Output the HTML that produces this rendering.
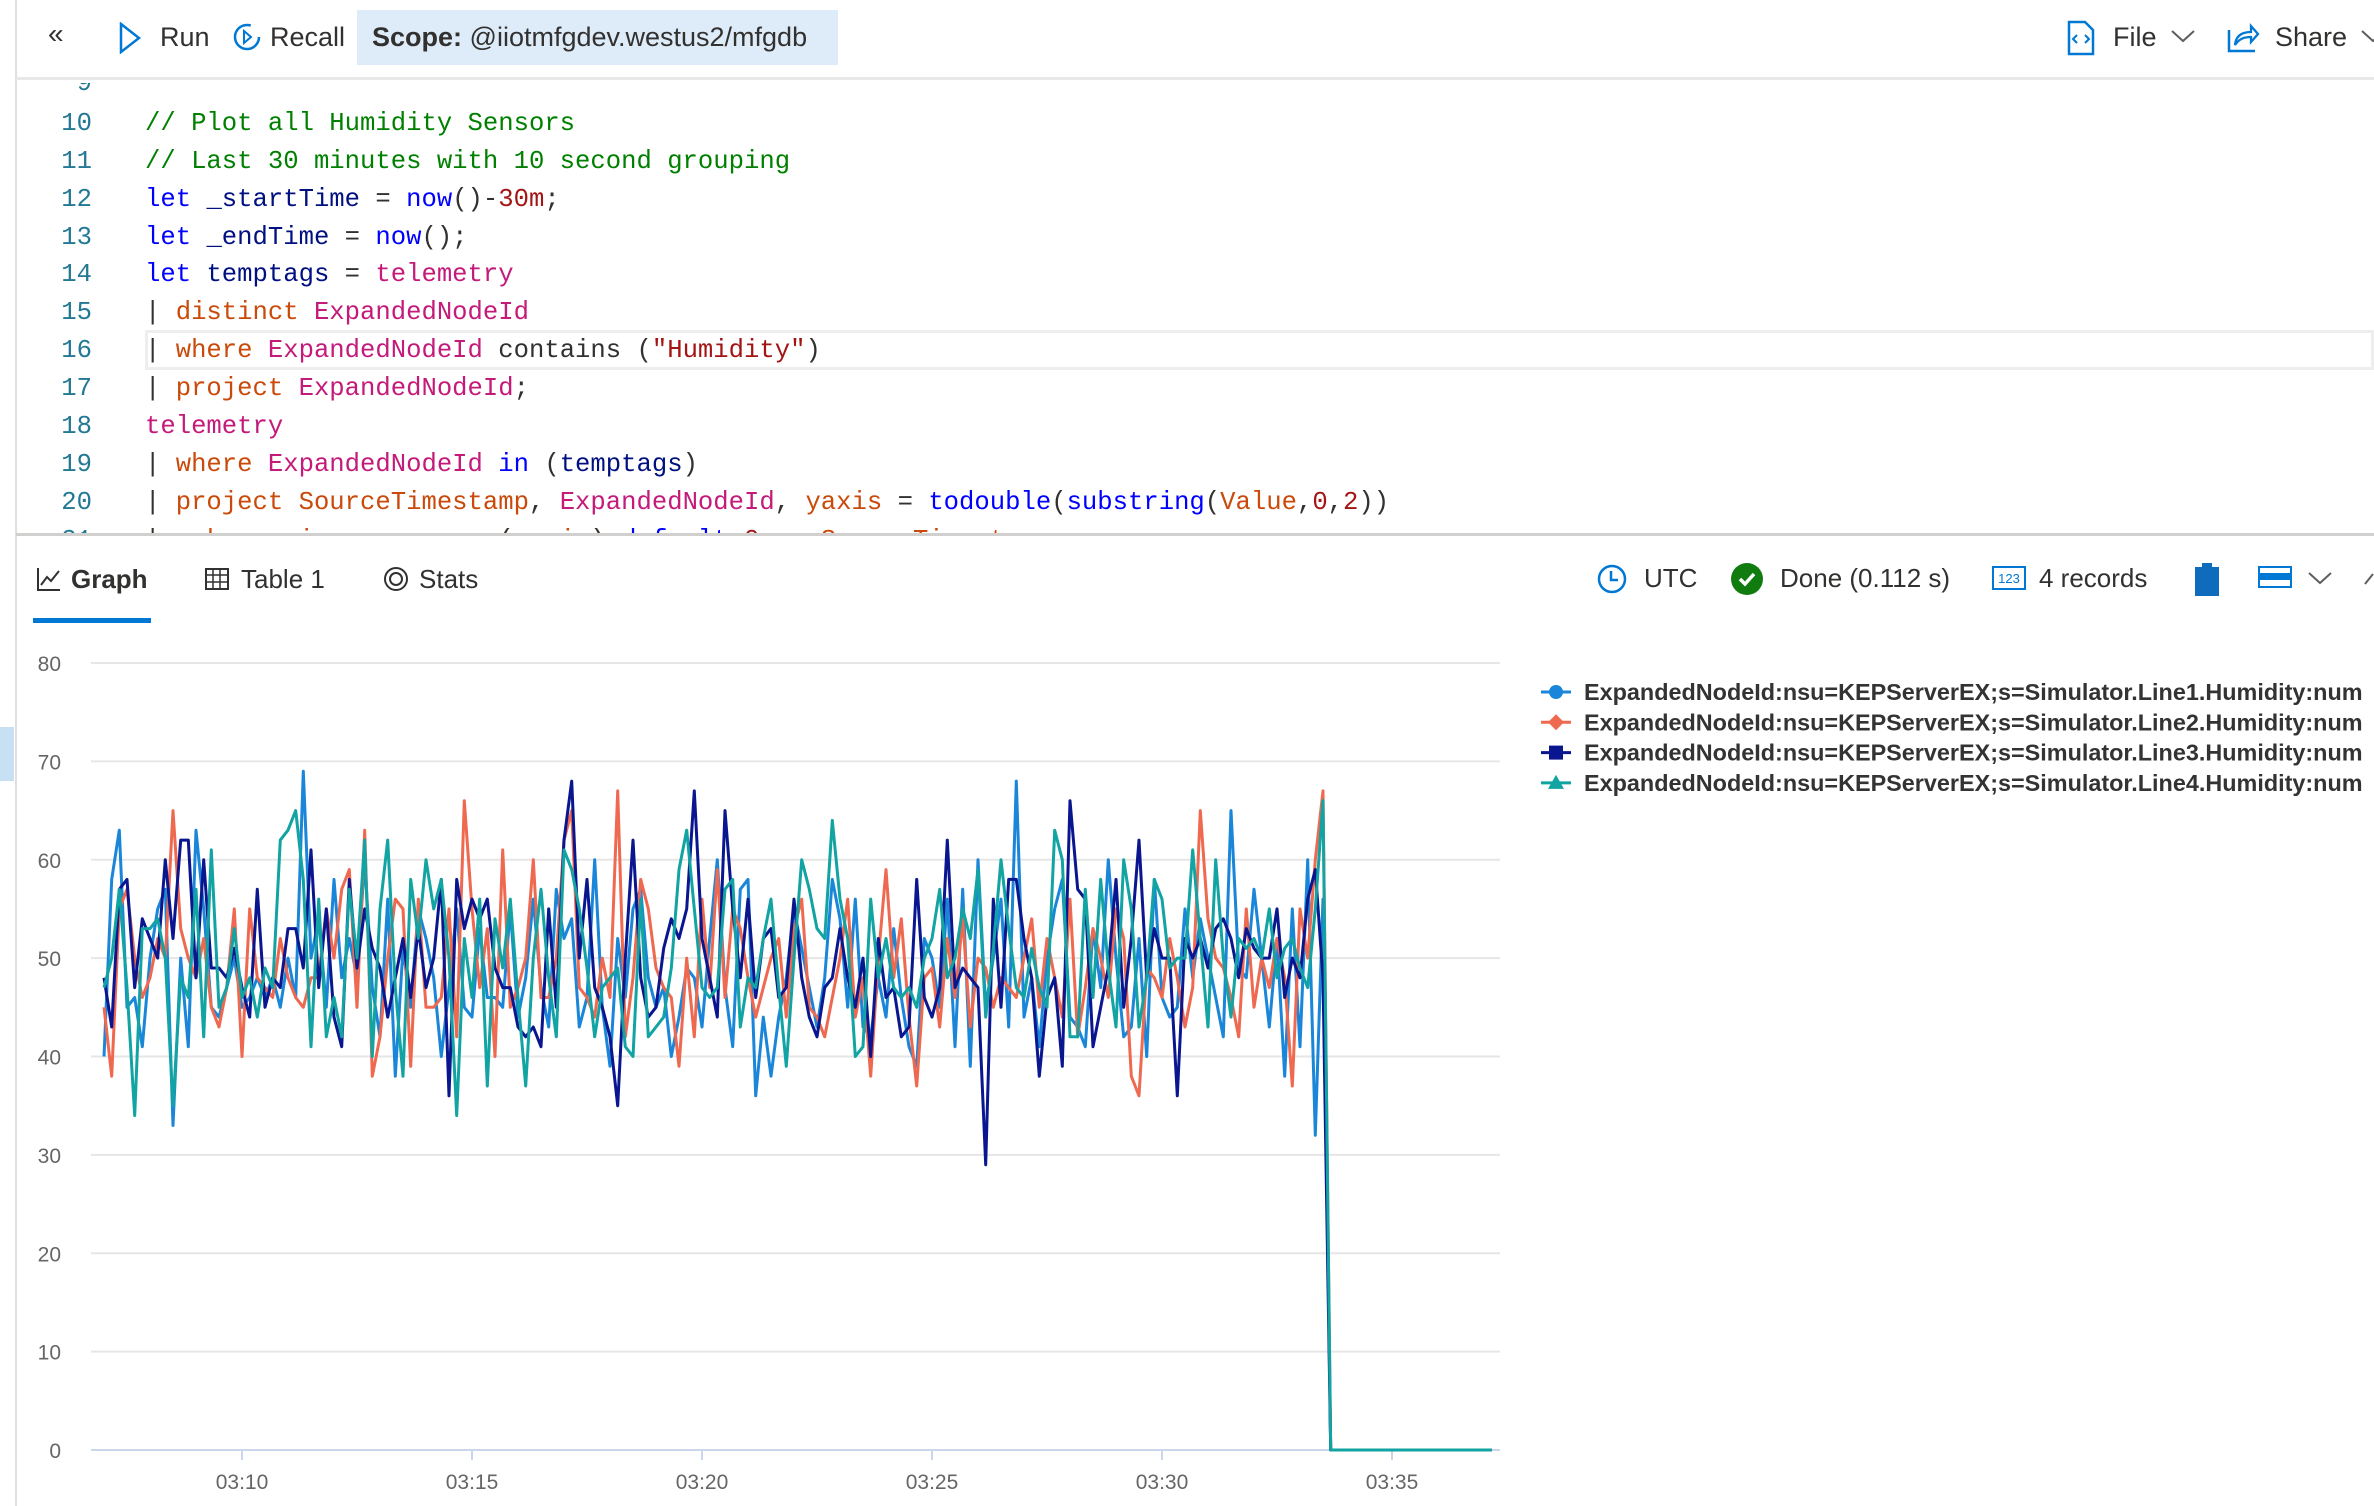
<!DOCTYPE html>
<html><head><meta charset="utf-8">
<style>
*{box-sizing:border-box;margin:0;padding:0}
body{width:2374px;height:1506px;background:#fff;position:relative;overflow:hidden;font-family:"Liberation Sans",sans-serif;color:#323130}
.abs{position:absolute}
.tb{font-size:27px;color:#323130;top:22px;white-space:nowrap}
.code{font-family:"Liberation Mono",monospace;font-size:25.6px;white-space:pre;position:absolute;left:145px}
.ln{font-family:"Liberation Mono",monospace;font-size:25.6px;color:#237893;position:absolute;width:60px;text-align:right;left:32px}
.k{color:#0000ff}.c{color:#008000}.p{color:#c41a7a}.o{color:#c94a0a}.s{color:#a31515}.n{color:#a31515}.t{color:#001080}
.tab{font-size:26px;top:564px;white-space:nowrap}
</style></head><body>
<div class="abs" style="left:15px;top:0;width:2px;height:1506px;background:#e1dfdd"></div>
<div class="abs" style="left:0;top:727px;width:14px;height:54px;background:#c7e0f4"></div>

<div class="abs" style="left:16px;top:0;width:2358px;height:80px;border-bottom:3px solid #e8e8e8"></div>
<div class="abs tb" style="left:48px;top:18px;font-size:28px">«</div>
<svg class="abs" style="left:118px;top:22px" width="24" height="32"><path d="M3 2 L21 16 L3 30 Z" fill="none" stroke="#0078d4" stroke-width="2.5"/></svg>
<div class="abs tb" style="left:160px">Run</div>
<svg class="abs" style="left:232px;top:20px" width="30" height="32"><circle cx="15" cy="17" r="12" fill="none" stroke="#0078d4" stroke-width="2.5" stroke-dasharray="60 16"/><path d="M12 11 L19 17 L12 23Z" fill="none" stroke="#0078d4" stroke-width="2"/></svg>
<div class="abs tb" style="left:270px">Recall</div>
<div class="abs" style="left:357px;top:10px;width:481px;height:55px;background:#deecf9"></div>
<div class="abs tb" style="left:372px"><b>Scope:</b> @iiotmfgdev.westus2/mfgdb</div>
<svg class="abs" style="left:2066px;top:20px" width="30" height="36"><path d="M3 2 H19 L27 10 V34 H3 Z" fill="none" stroke="#0078d4" stroke-width="2.5"/><path d="M11 15 L7 19 L11 23 M19 15 L23 19 L19 23" fill="none" stroke="#0078d4" stroke-width="2"/></svg>
<div class="abs tb" style="left:2113px">File</div>
<svg class="abs" style="left:2170px;top:28px" width="26" height="16"><path d="M2 3 L13 13 L24 3" fill="none" stroke="#605e5c" stroke-width="2"/></svg>
<svg class="abs" style="left:2226px;top:20px" width="34" height="34"><path d="M3 10 V31 H29" fill="none" stroke="#0078d4" stroke-width="2.5"/><path d="M9 25 C10 15 17 12 25 12 V6 L32 14 L25 22 V17 C18 17 13 19 9 25Z" fill="none" stroke="#0078d4" stroke-width="2.3"/></svg>
<div class="abs tb" style="left:2275px">Share</div>
<svg class="abs" style="left:2360px;top:28px" width="20" height="16"><path d="M2 3 L13 13 L24 3" fill="none" stroke="#605e5c" stroke-width="2"/></svg>

<div class="abs" style="left:17px;top:83px;width:2357px;height:450px;overflow:hidden">
<div class="abs" style="left:128px;top:247px;width:2229px;height:40px;border:3px solid #eeeeee"></div>
<div class="ln" style="top:-14px;left:15px">9</div>
<div class="ln" style="top:26px;left:15px">10</div><div class="code" style="top:26px;left:128px"><span class="c">// Plot all Humidity Sensors</span></div>
<div class="ln" style="top:64px;left:15px">11</div><div class="code" style="top:64px;left:128px"><span class="c">// Last 30 minutes with 10 second grouping</span></div>
<div class="ln" style="top:102px;left:15px">12</div><div class="code" style="top:102px;left:128px"><span class="k">let</span> <span class="t">_startTime</span> = <span class="k">now</span>()-<span class="n">30m</span>;</div>
<div class="ln" style="top:140px;left:15px">13</div><div class="code" style="top:140px;left:128px"><span class="k">let</span> <span class="t">_endTime</span> = <span class="k">now</span>();</div>
<div class="ln" style="top:177px;left:15px">14</div><div class="code" style="top:177px;left:128px"><span class="k">let</span> <span class="t">temptags</span> = <span class="p">telemetry</span></div>
<div class="ln" style="top:215px;left:15px">15</div><div class="code" style="top:215px;left:128px">| <span class="o">distinct</span> <span class="p">ExpandedNodeId</span></div>
<div class="ln" style="top:253px;left:15px">16</div><div class="code" style="top:253px;left:128px">| <span class="o">where</span> <span class="p">ExpandedNodeId</span> contains (<span class="s">"Humidity"</span>)</div>
<div class="ln" style="top:291px;left:15px">17</div><div class="code" style="top:291px;left:128px">| <span class="o">project</span> <span class="p">ExpandedNodeId</span>;</div>
<div class="ln" style="top:329px;left:15px">18</div><div class="code" style="top:329px;left:128px"><span class="p">telemetry</span></div>
<div class="ln" style="top:367px;left:15px">19</div><div class="code" style="top:367px;left:128px">| <span class="o">where</span> <span class="p">ExpandedNodeId</span> <span class="k">in</span> (<span class="t">temptags</span>)</div>
<div class="ln" style="top:405px;left:15px">20</div><div class="code" style="top:405px;left:128px">| <span class="o">project</span> <span class="o">SourceTimestamp</span>, <span class="p">ExpandedNodeId</span>, <span class="o">yaxis</span> = <span class="k">todouble</span>(<span class="k">substring</span>(<span class="o">Value</span>,<span class="n">0</span>,<span class="n">2</span>))</div>
<div class="ln" style="top:443px;left:15px">21</div><div class="code" style="top:443px;left:128px">| <span class="o">make-series</span> <span class="t">num</span> = <span class="k">avg</span>(<span class="o">yaxis</span>) <span class="k">default</span>=<span class="n">0</span> <span class="k">on</span> <span class="o">SourceTimestamp</span></div>
</div>
<div class="abs" style="left:16px;top:533px;width:2358px;height:3px;background:#d2d0ce"></div>

<svg class="abs" style="left:36px;top:566px" width="26" height="26"><path d="M2 2 V24 H24" fill="none" stroke="#323130" stroke-width="2"/><path d="M5 19 L11 11 L15 15 L23 5" fill="none" stroke="#323130" stroke-width="2"/></svg>
<div class="abs tab" style="left:71px;font-weight:bold">Graph</div>
<div class="abs" style="left:33px;top:618px;width:118px;height:5px;background:#0078d4"></div>
<svg class="abs" style="left:205px;top:568px" width="24" height="22"><rect x="1" y="1" width="22" height="20" fill="none" stroke="#323130" stroke-width="2"/><path d="M1 7 H23 M1 14 H23 M8 1 V21 M15 1 V21" stroke="#323130" stroke-width="1.5"/></svg>
<div class="abs tab" style="left:241px">Table 1</div>
<svg class="abs" style="left:383px;top:566px" width="26" height="26"><circle cx="13" cy="13" r="11" fill="none" stroke="#323130" stroke-width="2"/><circle cx="13" cy="13" r="6" fill="none" stroke="#323130" stroke-width="2"/></svg>
<div class="abs tab" style="left:419px">Stats</div>
<svg class="abs" style="left:1597px;top:564px" width="30" height="30"><circle cx="15" cy="15" r="13" fill="none" stroke="#0078d4" stroke-width="2.5"/><path d="M14 7 V16 H21" fill="none" stroke="#0078d4" stroke-width="2.5"/></svg>
<div class="abs tab" style="left:1644px;top:563px">UTC</div>
<svg class="abs" style="left:1730px;top:562px" width="34" height="34"><circle cx="17" cy="17" r="16" fill="#107c10"/><path d="M10 17 L15 22 L24 12" fill="none" stroke="#fff" stroke-width="3.5"/></svg>
<div class="abs tab" style="left:1780px;top:563px">Done (0.112 s)</div>
<svg class="abs" style="left:1992px;top:566px" width="34" height="24"><rect x="1" y="1" width="32" height="22" fill="none" stroke="#0078d4" stroke-width="2"/><text x="17" y="17" font-size="13" fill="#0078d4" text-anchor="middle" font-family="Liberation Sans">123</text></svg>
<div class="abs tab" style="left:2039px;top:563px">4 records</div>
<svg class="abs" style="left:2194px;top:562px" width="26" height="34"><rect x="1" y="5" width="24" height="29" fill="#0f6cbd"/><rect x="8" y="1" width="10" height="7" fill="#0f6cbd"/></svg>
<svg class="abs" style="left:2258px;top:566px" width="34" height="22"><rect x="1" y="1" width="32" height="20" fill="none" stroke="#0078d4" stroke-width="2"/><rect x="1" y="7" width="32" height="7" fill="#0078d4"/></svg>
<svg class="abs" style="left:2307px;top:570px" width="26" height="16"><path d="M2 3 L13 13 L24 3" fill="none" stroke="#605e5c" stroke-width="2"/></svg>
<svg class="abs" style="left:2363px;top:568px" width="11" height="20"><path d="M2 16 L10 6" stroke="#605e5c" stroke-width="2"/></svg>

<svg id="chart" class="abs" style="left:0;top:0" width="2374" height="1506"></svg>

<script>
const yTicks=[0,10,20,30,40,50,60,70,80];
const xTickLabels=['03:10','03:15','03:20','03:25','03:30','03:35'];
const xTickSeconds=[180,480,780,1080,1380,1680]; // seconds after 03:07:00
const stepSeconds=10;
const tailSeconds=[1600,1810];
const tailValues=[0,0];
const seriesNames=['ExpandedNodeId:nsu=KEPServerEX;s=Simulator.Line1.Humidity:num','ExpandedNodeId:nsu=KEPServerEX;s=Simulator.Line2.Humidity:num','ExpandedNodeId:nsu=KEPServerEX;s=Simulator.Line3.Humidity:num','ExpandedNodeId:nsu=KEPServerEX;s=Simulator.Line4.Humidity:num'];
const line1=[40,58,63,45,46,41,50,55,57,33,50,41,63,55,45,44,47,50,45,46,48,46,48,45,50,46,69,50,54,45,58,48,52,48,60,47,42,56,38,51,45,55,52,48,40,47,55,45,44,53,46,46,45,55,44,48,56,47,43,57,52,54,43,46,60,45,39,52,46,55,57,48,45,47,40,44,49,48,43,52,60,47,41,57,58,36,44,38,44,48,55,51,47,43,48,58,54,45,56,43,42,48,44,53,46,41,39,52,50,45,56,41,57,39,60,45,50,56,43,68,44,48,41,50,55,58,44,43,41,53,47,60,50,42,43,52,40,58,46,44,45,55,48,54,50,46,42,65,49,48,57,50,43,52,38,55,41,60,32,56];
const line2=[45,38,55,57,50,46,48,52,50,65,53,50,48,52,45,43,47,55,40,55,48,47,46,52,48,46,45,48,48,55,50,57,59,45,63,38,42,50,56,55,39,56,45,45,46,55,42,66,55,47,53,40,61,45,47,50,60,46,46,50,62,65,47,46,44,50,46,67,42,48,58,55,49,47,46,39,50,42,56,47,59,46,55,53,48,44,47,50,52,44,53,56,45,44,42,46,50,56,44,48,38,50,59,48,54,44,37,48,49,43,52,46,54,43,50,49,45,48,47,46,50,54,45,52,48,44,56,42,47,53,50,46,55,52,38,36,49,48,46,52,48,43,47,65,54,50,49,46,42,55,45,50,47,52,48,37,55,50,60,67];
const line3=[48,43,57,58,47,54,52,50,60,52,62,62,48,60,49,49,48,51,47,44,57,45,48,47,53,53,49,61,47,55,44,41,58,49,55,51,49,44,48,52,46,53,47,50,58,36,58,53,56,54,56,49,47,47,43,42,43,41,55,45,62,68,50,58,47,45,42,35,50,62,48,44,45,51,54,52,55,67,52,48,44,65,55,48,56,46,52,53,46,47,56,48,44,42,47,48,53,48,45,50,40,52,46,47,42,43,58,46,44,47,62,47,49,48,47,29,56,45,58,58,52,48,38,46,48,39,66,57,56,41,45,49,58,45,52,62,48,53,50,50,36,52,50,52,49,53,54,52,48,53,51,50,50,55,46,50,48,56,59,48];
const line4=[47,50,57,47,34,53,53,54,50,35,48,46,57,42,61,45,47,53,46,48,44,49,47,62,63,65,58,41,56,42,46,42,57,50,62,40,55,62,47,38,58,52,60,55,58,50,34,52,46,56,37,54,49,56,46,37,50,57,48,42,61,59,55,49,42,47,48,49,41,40,56,42,43,44,49,59,63,55,47,46,47,57,58,43,48,47,52,56,47,39,50,60,57,53,52,64,56,52,40,41,56,48,52,47,46,47,45,50,52,57,48,50,55,52,59,44,51,60,53,47,46,51,47,45,63,60,42,42,57,46,58,49,43,60,55,43,48,58,56,49,50,50,61,52,43,60,50,44,52,51,52,50,55,48,51,52,49,47,55,66];
const seriesValues=[line1,line2,line3,line4];
const colors=['#1a86d9','#ef6950','#0a168f','#12a3a3'];
const markers=['circle','diamond','square','triangle'];

const svg=document.getElementById('chart');
const NS='http://www.w3.org/2000/svg';
const plotL=91,plotR=1500,yTop=663,yBot=1450;
const y=v=>yBot-(v-0)/(80-0)*(yBot-yTop);
const x=s=>104+s*(230/300);
function mk(t,a){const e=document.createElementNS(NS,t);for(const k in a)e.setAttribute(k,a[k]);svg.appendChild(e);return e;}
yTicks.forEach(v=>{
  const g=mk('line',{x1:plotL,x2:plotR,y1:y(v),y2:y(v),stroke:v===0?'#ccd6eb':'#e6e6e6','stroke-width':2});
  
  
  const t=mk('text',{x:61,y:y(v)+8,'text-anchor':'end','font-size':21,fill:'#666','font-family':'Liberation Sans, sans-serif'});
  t.textContent=v;
  
  
});
xTickLabels.forEach((lab,i)=>{
  const xx=x(xTickSeconds[i]);
  const tk=mk('line',{x1:xx,x2:xx,y1:yBot,y2:yBot+10,stroke:'#ccd6eb','stroke-width':2});
  
  
  const t=mk('text',{x:xx,y:1489,'text-anchor':'middle','font-size':21,fill:'#666','font-family':'Liberation Sans, sans-serif'});
  t.textContent=lab;
  
  
});
seriesValues.forEach((vals,si)=>{
  const pts=vals.map((v,i)=>x(i*stepSeconds).toFixed(1)+','+y(v).toFixed(1));
  tailSeconds.forEach((s,j)=>pts.push(x(s).toFixed(1)+','+y(tailValues[j]).toFixed(1)));
  const p=mk('polyline',{points:pts.join(' '),fill:'none',stroke:colors[si],'stroke-width':3,'stroke-linejoin':'round'});
  
  
  const ly=692+si*30.3;
  const ll=mk('line',{x1:1541,x2:1571,y1:ly,y2:ly,stroke:colors[si],'stroke-width':3});
  
  
  let m;
  if(markers[si]==='circle')m=mk('circle',{cx:1556,cy:ly,r:7,fill:colors[si]});
  else if(markers[si]==='diamond')m=mk('path',{d:`M1556 ${ly-8} L1564 ${ly} L1556 ${ly+8} L1548 ${ly}Z`,fill:colors[si]});
  else if(markers[si]==='square')m=mk('rect',{x:1549,y:ly-7,width:14,height:14,fill:colors[si]});
  else m=mk('path',{d:`M1556 ${ly-8} L1564 ${ly+6} L1548 ${ly+6}Z`,fill:colors[si]});
  
  
  const t=mk('text',{x:1584,y:ly+8,'font-size':23.4,'font-weight':'bold',fill:'#333','font-family':'Liberation Sans, sans-serif'});
  t.textContent=seriesNames[si];
  
  
});
</script>
</body></html>
